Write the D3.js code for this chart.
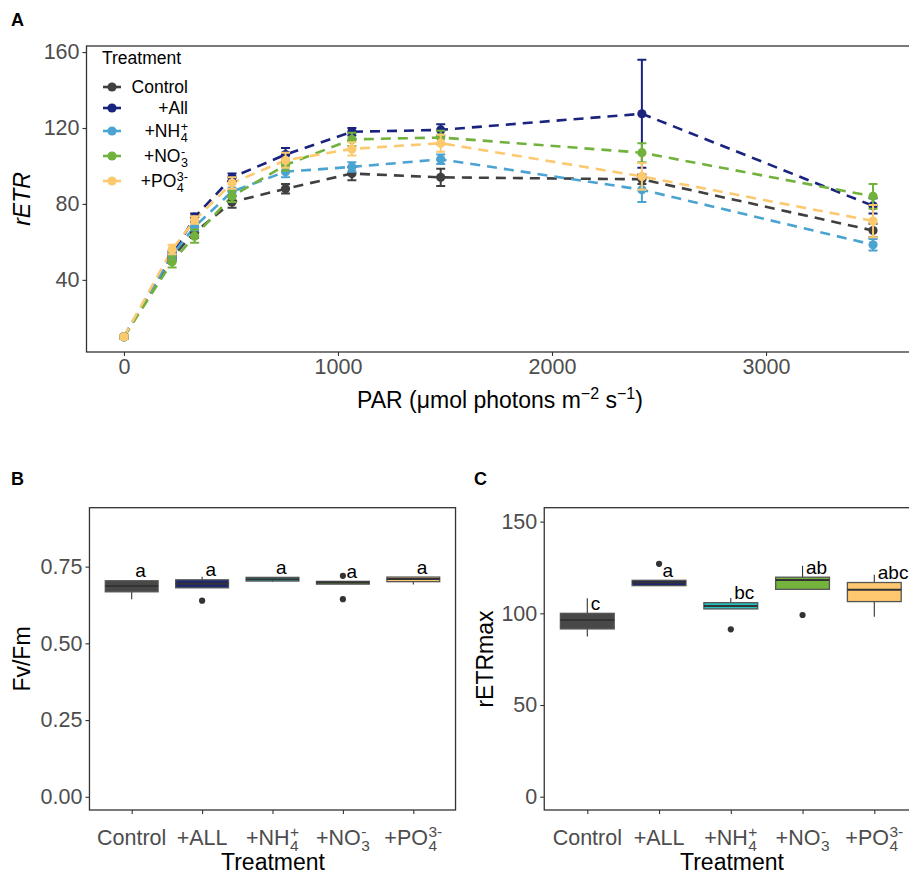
<!DOCTYPE html>
<html><head><meta charset="utf-8">
<script src="https://cdn.jsdelivr.net/npm/d3@7"></script>
<style>
body{margin:0;background:#fff;}
svg{font-family:"Liberation Sans",Arial,sans-serif;display:block;}
</style></head>
<body><svg id="c" width="909" height="876"></svg>
<script>
// ---------- DATA ----------
const PAR = [0, 225, 330, 505, 755, 1065, 1480, 2420, 3500];
const etrControl = [10, 52, 65, 81, 88, 96, 94, 93, 66];
const etrAll     = [10, 53, 73, 94, 106, 118, 119, 127.5, 79];
const etrNH4     = [10, 53, 68, 86.5, 97, 99.5, 103.5, 87.5, 58.5];
const etrNO3     = [10, 49.5, 63, 84, 100.5, 114, 115, 107, 84];
const etrPO4     = [10, 56, 71.5, 91, 103, 109, 112, 94.5, 71];
const sdControl = [1, 2, 3, 3, 2.5, 3.5, 4.5, 2.5, 3.5];
const sdAll     = [1, 2, 2, 2, 3.5, 2, 3, 28.5, 4];
const sdNH4     = [1, 2, 2, 2, 3, 2.5, 2.5, 6.5, 3];
const sdNO3     = [1, 3, 3.5, 3, 3, 3.5, 3.5, 5, 6.5];
const sdPO4     = [1, 2.5, 2, 3, 4, 3.5, 4.5, 7, 8.5];
const legendBase = ["Control", "+All", "+NH", "+NO", "+PO"];
const legendSub  = ["", "", "4", "3", "4"];
const legendSup  = ["", "", "+", "-", "3-"];
const lineColors = ["#404040", "#1a237e", "#4ba3d1", "#72b23c", "#fcc96f"];

const xTicksA = [0, 1000, 2000, 3000];
const yTicksA = [40, 80, 120, 160];

const catBase = ["Control", "+ALL", "+NH", "+NO", "+PO"];
const catSub  = ["", "", "4", "3", "4"];
const catSup  = ["", "", "+", "-", "3-"];
const boxFill = ["#484848", "#1f2672", "#22c2c2", "#74b33c", "#fdc870"];

// Fv/Fm boxplot stats
const fvLo  = [0.644, 0.681, 0.700, 0.693, 0.692];
const fvQ1  = [0.668, 0.681, 0.703, 0.693, 0.701];
const fvMed = [0.687, 0.694, 0.709, 0.698, 0.710];
const fvQ3  = [0.704, 0.707, 0.715, 0.702, 0.716];
const fvHi  = [0.704, 0.717, 0.716, 0.702, 0.716];
const fvOut = [[], [0.639], [], [0.720, 0.644], []];
const fvLetters = ["a", "a", "a", "a", "a"];
const yTicksB = [0, 0.25, 0.5, 0.75];

// rETRmax boxplot stats
const rLo  = [87.3, 115.1, 102.4, 113.1, 98.2];
const rQ1  = [91.5, 115.1, 102.4, 113.1, 106.4];
const rMed = [96.4, 116.8, 104.0, 118.2, 112.8];
const rQ3  = [100, 118, 105.8, 119.7, 116.8];
const rHi  = [108.2, 118, 108.4, 125.9, 121];
const rOut = [[], [127], [91.3], [99.1], []];
const rLetters = ["c", "a", "bc", "ab", "abc"];
const yTicksC = [0, 50, 100, 150];

// ---------- DRAWING ----------
const svg = d3.select("#c");
svg.append("rect").attr("width", 909).attr("height", 876).attr("fill", "#fff");
const TICK = "#4d4d4d", LINE = "#333";

function rich(g, x, y, base, sub, sup, fs, anchor, color) {
  const t = g.append("g").attr("fill", color);
  const b = t.append("text").attr("x", 0).attr("y", 0).attr("font-size", fs).text(base);
  const w = b.node().getComputedTextLength();
  let extra = 0;
  const sfs = fs * 0.72;
  if (sup) {
    const s = t.append("text").attr("x", w + 0.5).attr("y", -fs * 0.36).attr("font-size", sfs).text(sup);
    extra = Math.max(extra, s.node().getComputedTextLength() + 0.5);
  }
  if (sub) {
    const s = t.append("text").attr("x", w + 0.5).attr("y", fs * 0.3).attr("font-size", sfs).text(sub);
    extra = Math.max(extra, s.node().getComputedTextLength() + 0.5);
  }
  const total = w + extra;
  const dx = anchor === "middle" ? -total / 2 : anchor === "end" ? -total : 0;
  t.attr("transform", `translate(${x + dx},${y})`);
  return t;
}

function styleAxis(g, fs) {
  g.select(".domain").remove();
  g.selectAll(".tick line").attr("stroke", LINE).attr("stroke-width", 1.1);
  g.selectAll(".tick text").attr("fill", TICK).attr("font-size", fs).attr("font-family", "Liberation Sans, Arial, sans-serif");
}

// ===== Panel A =====
const xA = d3.scaleLinear().domain([-175, 3740]).range([86.5, 924.4]);
const yA = d3.scaleLinear().domain([2, 163.2]).range([352, 46]);
const gA = svg.append("g");
gA.append("text").attr("x", 11).attr("y", 26).attr("font-size", 18).attr("font-weight", "bold").text("A");

const series = [etrControl, etrAll, etrNH4, etrNO3, etrPO4];
const sds = [sdControl, sdAll, sdNH4, sdNO3, sdPO4];
svg.append("clipPath").attr("id", "clipA").append("rect")
  .attr("x", xA.range()[0]).attr("y", yA.range()[1]).attr("width", xA.range()[1] - xA.range()[0]).attr("height", yA.range()[0] - yA.range()[1]);
const plotA = gA.append("g").attr("clip-path", "url(#clipA)");
const line = d3.line().x((d, i) => xA(PAR[i])).y(d => yA(d));
series.forEach((s, k) => {
  plotA.append("path").datum(s).attr("d", line).attr("fill", "none")
    .attr("stroke", lineColors[k]).attr("stroke-width", 2.6).attr("stroke-dasharray", "10,7");
});
series.forEach((s, k) => {
  const g = plotA.append("g").attr("stroke", lineColors[k]).attr("stroke-width", 2);
  s.forEach((v, i) => {
    const x = xA(PAR[i]), y1 = yA(v - sds[k][i]), y2 = yA(v + sds[k][i]);
    g.append("line").attr("x1", x).attr("x2", x).attr("y1", y1).attr("y2", y2);
    g.append("line").attr("x1", x - 4.5).attr("x2", x + 4.5).attr("y1", y1).attr("y2", y1);
    g.append("line").attr("x1", x - 4.5).attr("x2", x + 4.5).attr("y1", y2).attr("y2", y2);
  });
  plotA.append("g").selectAll("circle").data(s).join("circle")
    .attr("cx", (d, i) => xA(PAR[i])).attr("cy", d => yA(d)).attr("r", 4.6).attr("fill", lineColors[k]);
});
gA.append("rect").attr("x", xA.range()[0]).attr("y", yA.range()[1])
  .attr("width", xA.range()[1] - xA.range()[0]).attr("height", yA.range()[0] - yA.range()[1])
  .attr("fill", "none").attr("stroke", LINE).attr("stroke-width", 1.3);
const axAy = gA.append("g").attr("transform", `translate(${xA.range()[0]},0)`)
  .call(d3.axisLeft(yA).tickValues(yTicksA).tickSize(4).tickPadding(3));
styleAxis(axAy, 21.5);
const axAx = gA.append("g").attr("transform", `translate(0,${yA.range()[0]})`)
  .call(d3.axisBottom(xA).tickValues(xTicksA).tickSize(4).tickPadding(3).tickFormat(d3.format("d")));
styleAxis(axAx, 21.5);
gA.append("text").attr("transform", `translate(30,${(yA.range()[0] + yA.range()[1]) / 2}) rotate(-90)`)
  .attr("text-anchor", "middle").attr("font-size", 23).attr("font-style", "italic").text("rETR");
const parT = gA.append("text").attr("x", 500).attr("y", 408).attr("text-anchor", "middle").attr("font-size", 23);
parT.append("tspan").text("PAR (\u03bcmol photons m");
parT.append("tspan").attr("dy", -9).attr("font-size", 16).text("\u22122");
parT.append("tspan").attr("dy", 9).text(" s");
parT.append("tspan").attr("dy", -9).attr("font-size", 16).text("\u22121");
parT.append("tspan").attr("dy", 9).text(")");

// Legend
const lg = gA.append("g");
lg.append("text").attr("x", 102).attr("y", 64).attr("font-size", 17.5).text("Treatment");
let ly = 87;
legendBase.forEach((b, k) => {
  const isRich = !!(legendSub[k] || legendSup[k]);
  if (k > 0) {
    const prevRich = !!(legendSub[k - 1] || legendSup[k - 1]);
    ly += 21 + (prevRich ? 2 : 0) + (isRich ? 2 : 0);
  }
  lg.append("line").attr("x1", 103).attr("x2", 121).attr("y1", ly).attr("y2", ly)
    .attr("stroke", lineColors[k]).attr("stroke-width", 2.6);
  lg.append("circle").attr("cx", 112).attr("cy", ly).attr("r", 4.6).attr("fill", lineColors[k]);
  rich(lg, 188, ly + 6, b, legendSub[k], legendSup[k], 17.5, "end", "#000");
});

// ===== Box panels =====
function boxPanel(opts) {
  const g = svg.append("g");
  const x = d3.scalePoint().domain(d3.range(5)).range(opts.xr);
  const y = d3.scaleLinear().domain(opts.yd).range([810, 507.7]);
  const step = x.step();
  const left = opts.xr[0] - 0.6 * step, right = opts.xr[1] + 0.6 * step;
  g.append("text").attr("x", opts.labelX).attr("y", 485).attr("font-size", 18).attr("font-weight", "bold").text(opts.label);
  const bw = 0.75 * step;
  const pg = g.append("g");
  for (let i = 0; i < 5; i++) {
    const cx = x(i);
    pg.append("line").attr("x1", cx).attr("x2", cx).attr("y1", y(opts.hi[i])).attr("y2", y(opts.q3[i])).attr("stroke", LINE).attr("stroke-width", 1.1);
    pg.append("line").attr("x1", cx).attr("x2", cx).attr("y1", y(opts.q1[i])).attr("y2", y(opts.lo[i])).attr("stroke", LINE).attr("stroke-width", 1.1);
    pg.append("rect").attr("x", cx - bw / 2).attr("y", y(opts.q3[i])).attr("width", bw)
      .attr("height", Math.max(0.5, y(opts.q1[i]) - y(opts.q3[i])))
      .attr("fill", boxFill[i]).attr("stroke", "#555").attr("stroke-width", 1.3);
    pg.append("line").attr("x1", cx - bw / 2).attr("x2", cx + bw / 2).attr("y1", y(opts.med[i])).attr("y2", y(opts.med[i]))
      .attr("stroke", "#333").attr("stroke-width", 2);
    opts.out[i].forEach(o => pg.append("circle").attr("cx", cx).attr("cy", y(o)).attr("r", 3.1).attr("fill", "#333"));
    g.append("text").attr("x", cx + 3.5).attr("y", y(opts.q3[i]) - 3.5).attr("font-size", 19).attr("fill", "#000").text(opts.letters[i]);
  }
  g.append("rect").attr("x", left).attr("y", 507.7).attr("width", right - left).attr("height", 810 - 507.7)
    .attr("fill", "none").attr("stroke", LINE).attr("stroke-width", 1.3);
  const ay = g.append("g").attr("transform", `translate(${left},0)`)
    .call(d3.axisLeft(y).tickValues(opts.ticks).tickSize(4).tickPadding(3).tickFormat(opts.fmt));
  styleAxis(ay, 21.5);
  const ax = g.append("g").attr("transform", "translate(0,810)")
    .call(d3.axisBottom(x).tickSize(4).tickFormat(""));
  styleAxis(ax, 21.5);
  for (let i = 0; i < 5; i++) rich(g, x(i), 845, catBase[i], catSub[i], catSup[i], 21.5, "middle", TICK);
  g.append("text").attr("x", opts.titleX).attr("y", 870).attr("text-anchor", "middle").attr("font-size", 23).text("Treatment");
  g.append("text").attr("transform", `translate(${opts.yTitleX},659) rotate(-90)`).attr("text-anchor", "middle").attr("font-size", 23).text(opts.yTitle);
}

boxPanel({xr: [131.7, 413.3], yd: [-0.043, 0.942], label: "B", labelX: 11,
  lo: fvLo, q1: fvQ1, med: fvMed, q3: fvQ3, hi: fvHi, out: fvOut, letters: fvLetters,
  ticks: yTicksB, fmt: d3.format(".2f"), titleX: 273, yTitleX: 30, yTitle: "Fv/Fm"});
boxPanel({xr: [587.3, 874.3], yd: [-7.25, 157.6], label: "C", labelX: 474,
  lo: rLo, q1: rQ1, med: rMed, q3: rQ3, hi: rHi, out: rOut, letters: rLetters,
  ticks: yTicksC, fmt: d3.format("d"), titleX: 732, yTitleX: 493, yTitle: "rETRmax"});
</script></body></html>
